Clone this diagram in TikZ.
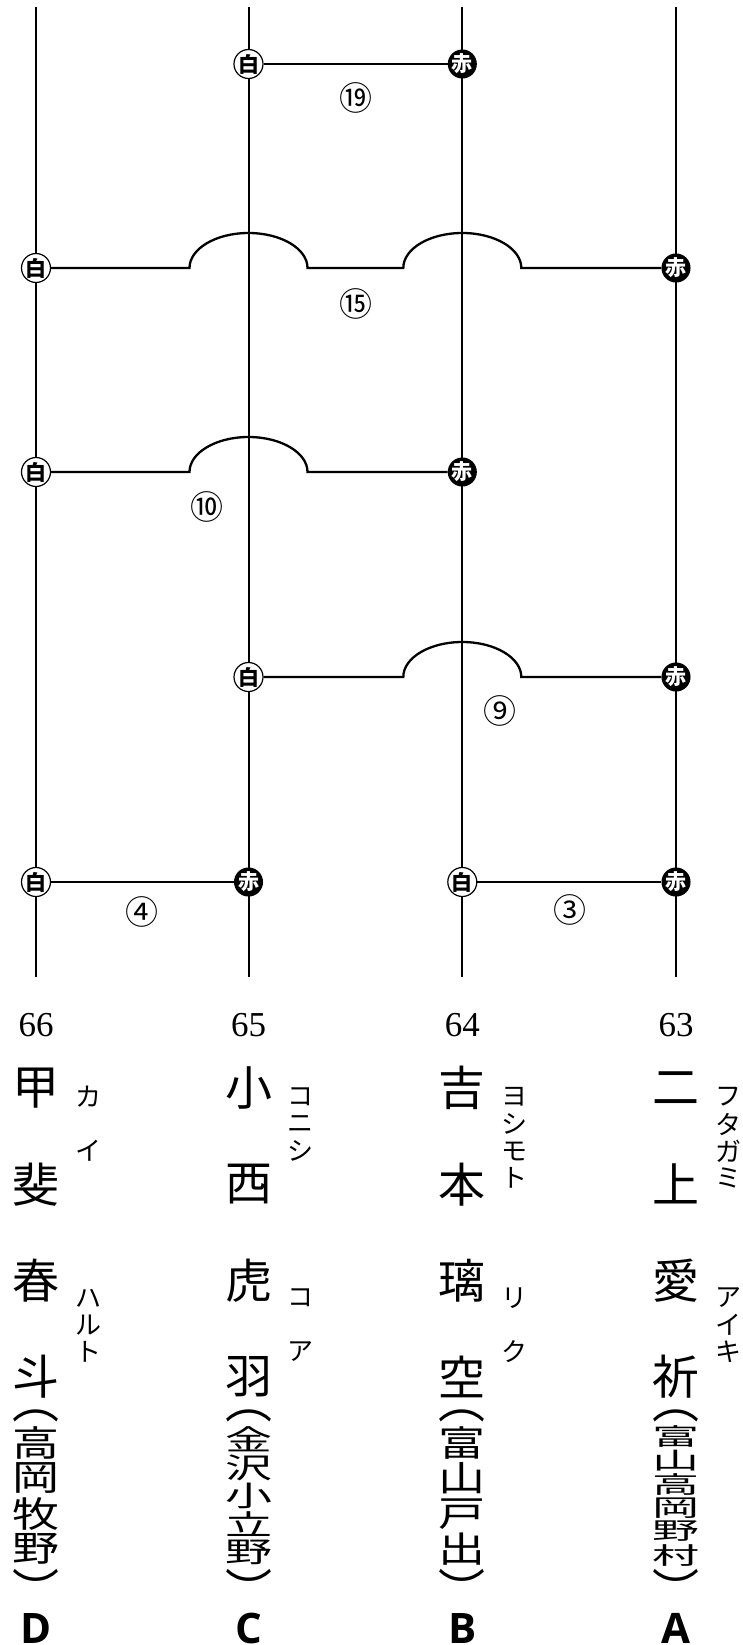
\documentclass[tikz,border=0pt]{standalone}
\usepackage{fontspec}
\usepackage{tikz}
\newfontfamily\jpfont{Noto Sans CJK JP}
\newfontfamily\numfont{Liberation Serif}
\newfontfamily\teamfont{Open Sans}

\begin{document}
\begin{tikzpicture}[x=1pt, y=-1pt,
    pole/.style={line width=2pt},
    rung/.style={line width=2.3pt},
    hop/.style={insert path={arc[start angle=180, end angle=0, x radius=59pt, y radius=35pt]}},
    shiro/.style={circle, draw, line width=1.2pt, fill=white, inner sep=0pt, minimum size=29pt, font=\jpfont\bfseries\fontsize{21}{21}\selectfont},
    aka/.style={circle, fill=black, text=white, inner sep=0pt, minimum size=29pt, font=\jpfont\bfseries\fontsize{21}{21}\selectfont},
    bout/.style={inner sep=0pt, font=\jpfont\fontsize{33}{33}\selectfont},
    seed/.style={inner sep=0pt, font=\numfont\fontsize{35}{35}\selectfont},
    kanji/.style={inner sep=0pt, font=\jpfont\fontsize{47}{47}\selectfont},
    ruby/.style={inner sep=0pt, font=\jpfont\fontsize{26}{26}\selectfont},
    team/.style={inner sep=0pt, font=\teamfont\bfseries\fontsize{42}{42}\selectfont}]

\useasboundingbox (0,0) rectangle (742,1645);

% --- Vertical lines (one per player) ---
\foreach \p/\x in {D/36, C/248.5, B/462.3, A/676} {
    \coordinate (top\p) at (\x,7);
    \coordinate (bot\p) at (\x,977);
    \draw[pole] (top\p) -- (bot\p);
}

% --- Bout 19: C (white) vs B (red) ---
\node[shiro] (w19) at (248.5,64) {白};
\node[aka] (r19) at (462.3,64) {赤};
\draw[rung] (w19) -- (r19);
\node[bout] (b19) at (356,98) {⑲};

% --- Bout 15: D (white) vs A (red), over C and B ---
\node[shiro] (w15) at (36,268) {白};
\node[aka] (r15) at (676,268) {赤};
\coordinate (x15C) at (248.5,268);
\coordinate (x15B) at (462.3,268);
\draw[rung] (w15) -- ([xshift=-59pt]x15C) [hop] -- ([xshift=-59pt]x15B) [hop] -- (r15);
\node[bout] (b15) at (356,304) {⑮};

% --- Bout 10: D (white) vs B (red), over C ---
\node[shiro] (w10) at (36,472) {白};
\node[aka] (r10) at (462.3,472) {赤};
\coordinate (x10C) at (248.5,472);
\draw[rung] (w10) -- ([xshift=-59pt]x10C) [hop] -- (r10);
\node[bout] (b10) at (207,507) {⑩};

% --- Bout 9: C (white) vs A (red), over B ---
\node[shiro] (w9) at (248.5,677) {白};
\node[aka] (r9) at (676,677) {赤};
\coordinate (x9B) at (462.3,677);
\draw[rung] (w9) -- ([xshift=-59pt]x9B) [hop] -- (r9);
\node[bout] (b9) at (500,711) {⑨};

% --- Bout 4: D (white) vs C (red) ---
\node[shiro] (w4) at (36,882) {白};
\node[aka] (r4) at (248.5,882) {赤};
\draw[rung] (w4) -- (r4);
\node[bout] (b4) at (142,912) {④};

% --- Bout 3: B (white) vs A (red) ---
\node[shiro] (w3) at (462.3,882) {白};
\node[aka] (r3) at (676,882) {赤};
\draw[rung] (w3) -- (r3);
\node[bout] (b3) at (570,910) {③};

% --- Player D ---
\node[seed] (sD) at (36,1025) {66};
\foreach \c [count=\i] in {甲,斐,春,斗}
    \node[kanji] (nD\i) at (36,{1088+96.3*(\i-1)}) {\c};
\foreach \c [count=\i] in {カ,イ}
    \node[ruby] (fD\i) at (88,{1097+54*(\i-1)}) {\c};
\foreach \c [count=\i] in {ハ,ル,ト}
    \node[ruby] (gD\i) at (88,{1298+27*(\i-1)}) {\c};
\node[kanji] (oD) at (36,1416) {︵};
\foreach \c [count=\i] in {高,岡,牧,野}
    \node[kanji] (hD\i) at (36,{1425+35.5*(\i-0.5)}) {\scalebox{1}[0.755]{\c}};
\node[kanji] (cD) at (36,1589) {︶};
\node[team] (tD) at (36,1628) {D};

% --- Player C ---
\node[seed] (sC) at (248.5,1025) {65};
\foreach \c [count=\i] in {小,西,虎,羽}
    \node[kanji] (nC\i) at (248.5,{1088+96.3*(\i-1)}) {\c};
\foreach \c [count=\i] in {コ,ニ,シ}
    \node[ruby] (fC\i) at (300.5,{1097+27*(\i-1)}) {\c};
\foreach \c [count=\i] in {コ,ア}
    \node[ruby] (gC\i) at (300.5,{1298+54*(\i-1)}) {\c};
\node[kanji] (oC) at (248.5,1416) {︵};
\foreach \c [count=\i] in {金,沢,小,立,野}
    \node[kanji] (hC\i) at (248.5,{1425+28.4*(\i-0.5)}) {\scalebox{1}[0.604]{\c}};
\node[kanji] (cC) at (248.5,1589) {︶};
\node[team] (tC) at (248.5,1628) {C};

% --- Player B ---
\node[seed] (sB) at (462.3,1025) {64};
\foreach \c [count=\i] in {吉,本,璃,空}
    \node[kanji] (nB\i) at (462.3,{1088+96.3*(\i-1)}) {\c};
\foreach \c [count=\i] in {ヨ,シ,モ,ト}
    \node[ruby] (fB\i) at (514.3,{1097+27*(\i-1)}) {\c};
\foreach \c [count=\i] in {リ,ク}
    \node[ruby] (gB\i) at (514.3,{1298+54*(\i-1)}) {\c};
\node[kanji] (oB) at (462.3,1416) {︵};
\foreach \c [count=\i] in {富,山,戸,出}
    \node[kanji] (hB\i) at (462.3,{1425+35.5*(\i-0.5)}) {\scalebox{1}[0.755]{\c}};
\node[kanji] (cB) at (462.3,1589) {︶};
\node[team] (tB) at (462.3,1628) {B};

% --- Player A ---
\node[seed] (sA) at (676,1025) {63};
\foreach \c [count=\i] in {二,上,愛,祈}
    \node[kanji] (nA\i) at (676,{1088+96.3*(\i-1)}) {\c};
\foreach \c [count=\i] in {フ,タ,ガ,ミ}
    \node[ruby] (fA\i) at (728,{1097+27*(\i-1)}) {\c};
\foreach \c [count=\i] in {ア,イ,キ}
    \node[ruby] (gA\i) at (728,{1298+27*(\i-1)}) {\c};
\node[kanji] (oA) at (676,1416) {︵};
\foreach \c [count=\i] in {富,山,高,岡,野,村}
    \node[kanji] (hA\i) at (676,{1425+23.67*(\i-0.5)}) {\scalebox{1}[0.503]{\c}};
\node[kanji] (cA) at (676,1589) {︶};
\node[team] (tA) at (676,1628) {A};

\end{tikzpicture}
\end{document}
